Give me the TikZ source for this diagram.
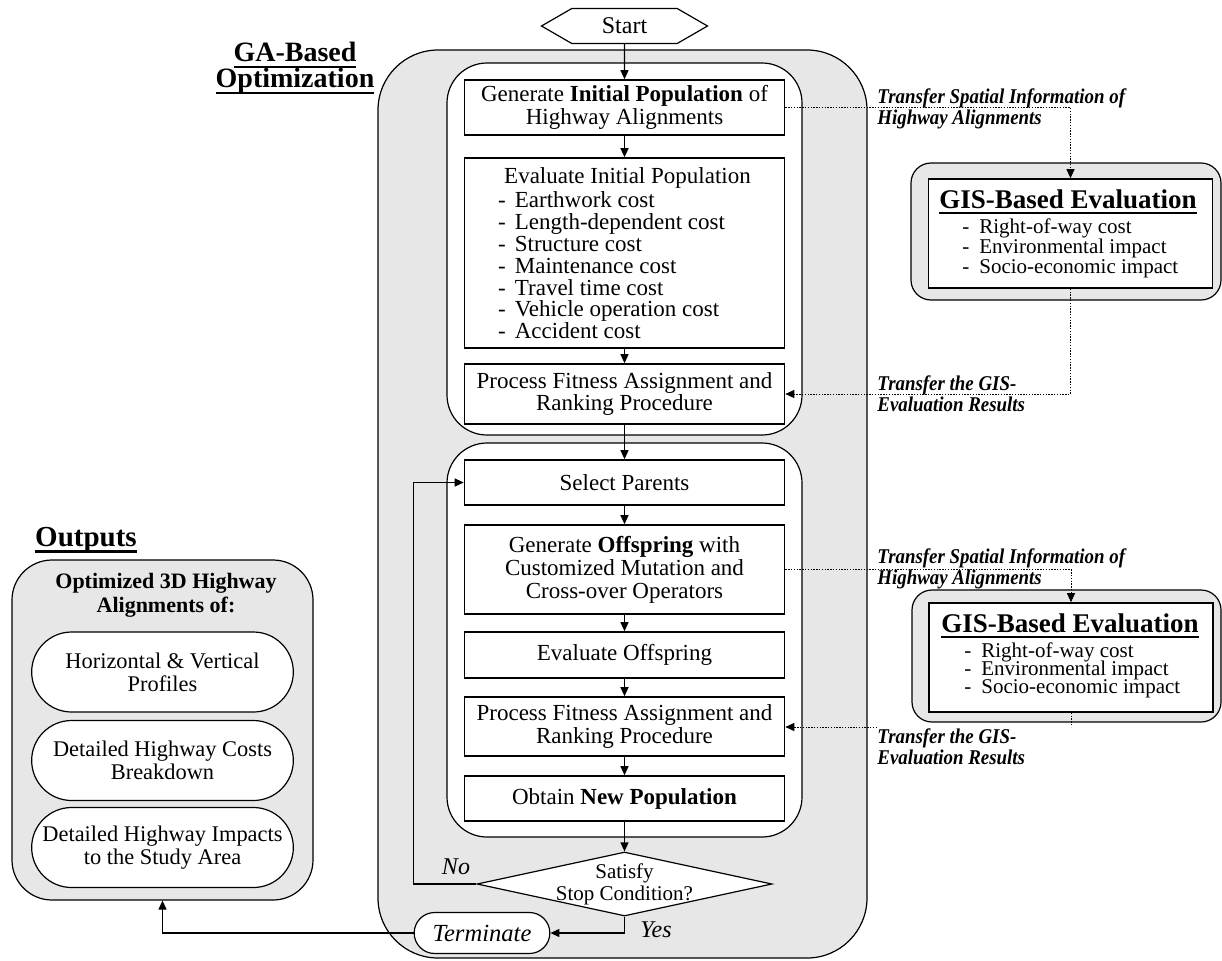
\documentclass[tikz,border=0pt]{standalone}
\usepackage{fontspec}
\setmainfont{Liberation Serif}
\newfontfamily\notefamily[FakeStretch=0.9]{Liberation Serif}
\usepackage{xcolor}
\usepackage{tikz}
\usetikzlibrary{shapes.geometric, shapes.misc, shapes.symbols, arrows.meta, positioning}
\definecolor{panelgray}{RGB}{231, 231, 231}
\newcommand{\boxfont}{\fontsize{11.5}{11.25}\selectfont}
\newcommand{\notefont}{\notefamily\fontsize{10.5}{10.5}\selectfont\bfseries\itshape}
\newcommand{\heavyul}[1]{\setbox0\hbox{#1}\rlap{\rule[-3pt]{\wd0}{1.1pt}}\box0}
\tikzstyle{outerbox} = [rectangle, rounded corners=30pt, draw, line width=0.6pt, fill=panelgray]
\tikzstyle{stagebox} = [rectangle, rounded corners=20pt, draw, line width=0.6pt, fill=white]
\tikzstyle{process} = [rectangle, draw, line width=0.8pt, fill=white, minimum width=160pt, inner sep=1pt, align=center, font=\boxfont]
\tikzstyle{startbox} = [signal, signal to=east and west, signal pointer angle=60, draw, line width=0.6pt, fill=white, minimum width=83pt, minimum height=17.5pt, inner sep=1pt, font=\fontsize{12}{12}\selectfont]
\tikzstyle{decision} = [diamond, aspect=4.6, draw, line width=0.6pt, fill=white, minimum width=147.5pt, minimum height=32pt, inner sep=0pt]
\tikzstyle{result} = [rounded rectangle, draw, line width=0.6pt, fill=white, minimum width=137.5pt, minimum height=40pt, align=center, font=\fontsize{11.2}{11.5}\selectfont]
\tikzstyle{gisouter} = [rectangle, rounded corners=10pt, draw, line width=0.6pt, fill=panelgray]
\tikzstyle{gisinner} = [rectangle, draw, line width=0.8pt, fill=white, minimum width=142pt, minimum height=54.5pt]
\tikzstyle{gistitle} = [anchor=base, inner sep=0pt, font=\fontsize{13.5}{13.5}\selectfont\bfseries]
\tikzstyle{gislist} = [anchor=base west, inner sep=0pt, align=left]
\tikzstyle{note} = [anchor=base west, inner sep=0pt, align=left, font=\notefont]
\tikzstyle{arrow} = [line width=0.6pt, -{Triangle[length=4.5pt, width=4pt]}]
\tikzstyle{transfer} = [line width=0.5pt, dash pattern=on 0.7pt off 0.7pt, -{Triangle[length=4.5pt, width=4pt]}]

\begin{document}
\begin{tikzpicture}[x=0.5pt, y=-0.5pt]
    \useasboundingbox (0,0) rectangle (1222,960);

    % GA-Based Optimization
    \node[outerbox, minimum width=244.5pt, minimum height=454pt] (ga) at (622.5,504) {};
    \node[font=\fontsize{14}{13}\selectfont\bfseries, align=center] (gatitle) at (295,68) {\heavyul{GA-Based}\\\heavyul{Optimization}};
    \node[stagebox, minimum width=177.5pt, minimum height=186pt] (stage1) at (624.5,249) {};
    \node[stagebox, minimum width=177.5pt, minimum height=197pt] (stage2) at (624.5,640) {};

    % Start
    \node[startbox] (start) at (624.5,26) {Start};

    % Initial population
    \node[process, minimum height=27.5pt] (gen) at (624.5,107.5) {Generate \textbf{Initial Population} of\\Highway Alignments};
    \node[process, minimum height=95pt, align=left, font=\fontsize{11.5}{10.9}\selectfont] (eval) at (624.5,253) {\hspace*{3pt}Evaluate Initial Population\\[1.5pt]
        -\hspace{4.5pt}Earthwork cost\\
        -\hspace{4.5pt}Length-dependent cost\\
        -\hspace{4.5pt}Structure cost\\
        -\hspace{4.5pt}Maintenance cost\\
        -\hspace{4.5pt}Travel time cost\\
        -\hspace{4.5pt}Vehicle operation cost\\
        -\hspace{4.5pt}Accident cost};
    \node[process, minimum height=30pt] (fit1) at (624.5,394) {Process Fitness Assignment and\\Ranking Procedure};

    % Offspring loop
    \node[process, minimum height=22.5pt] (sel) at (624.5,482.5) {Select Parents};
    \node[process, minimum height=44.5pt, font=\fontsize{11.5}{11.5}\selectfont] (off) at (624.5,569.5) {Generate \textbf{Offspring} with\\Customized Mutation and\\Cross-over Operators};
    \node[process, minimum height=23pt] (evo) at (624.5,655) {Evaluate Offspring};
    \node[process, minimum height=29.5pt] (fit2) at (624.5,726.5) {Process Fitness Assignment and\\Ranking Procedure};
    \node[process, minimum height=22.5pt] (newp) at (624.5,798.5) {Obtain \textbf{New Population}};

    % Stop condition
    \node[decision] (stop) at (624.5,884) {};
    \node[align=center, font=\fontsize{10.5}{11}\selectfont] (stoptext) at (624.5,884) {Satisfy\\Stop Condition?};
    \node[result, minimum width=74.5pt, minimum height=20.5pt, font=\fontsize{12.3}{12}\selectfont\itshape] (term) at (482,933) {Terminate};
    \node[font=\fontsize{12}{12}\selectfont\itshape] (no) at (456,867) {No};
    \node[font=\fontsize{12}{12}\selectfont\itshape] (yes) at (656,930) {Yes};

    % Outputs
    \node[outerbox, rounded corners=20pt, minimum width=150.5pt, minimum height=170pt] (outputs) at (162.5,730) {};
    \node[font=\fontsize{14.5}{14}\selectfont\bfseries] (outtitle) at (86,540) {\heavyul{Outputs}};
    \node[font=\fontsize{11}{12}\selectfont\bfseries, align=center] (outhead) at (166,595) {Optimized 3D Highway\\Alignments of:};
    \node[result] (prof) at (162.5,672) {Horizontal \& Vertical\\Profiles};
    \node[result] (costs) at (162.5,760.5) {Detailed Highway Costs\\Breakdown};
    \node[result] (impacts) at (162.5,847.5) {Detailed Highway Impacts\\to the Study Area};

    % GIS-Based Evaluation (initial population)
    \node[gisouter, minimum width=155pt, minimum height=68.5pt] (gisAbox) at (1066,231.5) {};
    \node[gisinner] (gisA) at (1070.5,233.5) {};
    \node[gistitle] (gisAtitle) at (1068,208) {\heavyul{GIS-Based Evaluation}};
    \node[gislist, font=\fontsize{10.5}{10}\selectfont] (gisAlist) at (962,273) {-\hspace{5pt}Right-of-way cost\\-\hspace{5pt}Environmental impact\\-\hspace{5pt}Socio-economic impact};

    % GIS-Based Evaluation (offspring)
    \node[gisouter, minimum width=154.5pt, minimum height=66pt] (gisBbox) at (1066.5,656) {};
    \node[gisinner] (gisB) at (1071,657.5) {};
    \node[gistitle] (gisBtitle) at (1070,632) {\heavyul{GIS-Based Evaluation}};
    \node[gislist, font=\fontsize{10.5}{10}\selectfont] (gisBlist) at (964,693) {-\hspace{5pt}Right-of-way cost\\[-1pt]-\hspace{5pt}Environmental impact\\[-1pt]-\hspace{5pt}Socio-economic impact};

    % Transfer notes
    \node[note] (noteA) at (877,124) {Transfer Spatial Information of\\Highway Alignments};
    \node[note] (noteB) at (877,411) {Transfer the GIS-\\Evaluation Results};
    \node[note] (noteC) at (877,584) {Transfer Spatial Information of\\Highway Alignments};
    \node[note] (noteD) at (877,764) {Transfer the GIS-\\Evaluation Results};

    % Main flow
    \draw[arrow] (start) -- (gen);
    \draw[arrow] (gen) -- (eval);
    \draw[arrow] (eval) -- (fit1);
    \draw[arrow] (fit1) -- (sel);
    \draw[arrow] (sel) -- (off);
    \draw[arrow] (off) -- (evo);
    \draw[arrow] (evo) -- (fit2);
    \draw[arrow] (fit2) -- (newp);
    \draw[arrow] (newp) -- (stop);
    \draw[arrow] (stop.south) |- (term.east);
    \draw[arrow] (stop.west) -- ++(-63,0) |- (sel.west);
    \draw[arrow] (term.west) -| (outputs.south);

    % GIS exchange
    \draw[transfer] (gen.east) -| (gisA.north);
    \draw[transfer] (gisA.south) |- (fit1.east);
    \draw[transfer] (off.east) -| (gisB.north);
    \draw[transfer, -] (gisB.south) -- ++(0,14);
    \coordinate (backB) at (877,727);
    \draw[transfer] (backB) -- (backB -| fit2.east);
\end{tikzpicture}
\end{document}
